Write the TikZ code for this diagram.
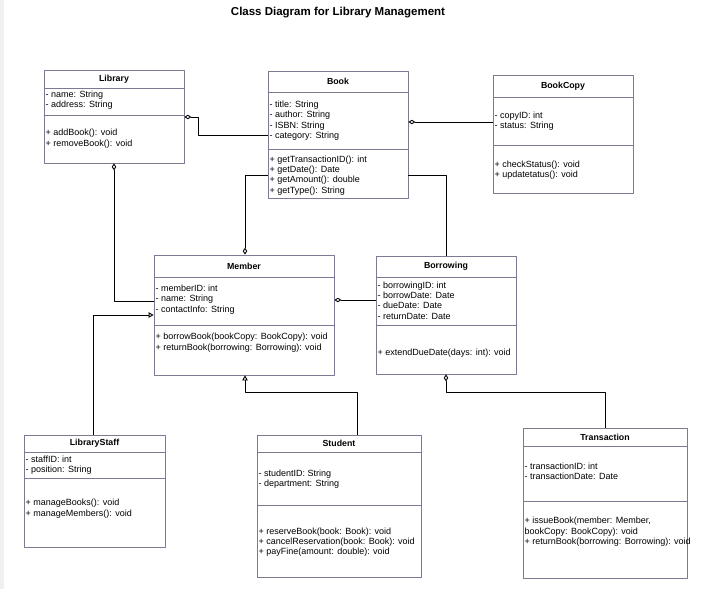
\documentclass[tikz,border=0pt]{standalone}
\usepackage{fontspec}
\setmainfont{Liberation Sans}
\usetikzlibrary{arrows.meta,fit}
\definecolor{clsborder}{RGB}{122,122,146}
\begin{document}
\begin{tikzpicture}[x=1pt,y=-1pt,line join=round,
	cls/.style={draw=clsborder,line width=0.8pt,inner sep=0pt},
	hdr/.style={font=\fontsize{8.8}{10}\selectfont\bfseries},
	txt/.style={anchor=north west,inner sep=0pt,align=left,font=\fontsize{9}{10.4}\selectfont},
	agg/.style={{Diamond[open,length=7pt,width=4.5pt]}-,line width=0.9pt},
	inh/.style={-{Triangle[open,length=5pt,width=5.5pt]},line width=0.9pt},
	assoc/.style={line width=0.9pt}]
	\useasboundingbox (0,0) rectangle (705,589);
	\fill[gray!12] (0,0) rectangle (4,589);
	\node[font=\fontsize{11.5}{13}\selectfont\bfseries] (title) at (338,13) {Class Diagram for Library Management};
	% class boxes: name/title/left/top/right/bottom/header line/attribute line
	\foreach \n/\t/\l/\u/\r/\b/\h/\a in {library/Library/44/70/184/163/88/115,
		book/Book/268/71/408/198/92/149,
		bookcopy/BookCopy/493/75/633/193/97/145,
		member/Member/154/255/334/375/277/325,
		borrowing/Borrowing/376/256/516/374/277/325,
		staff/LibraryStaff/24/435/165/547/452/478,
		student/Student/257/435/421/577/452/505,
		transaction/Transaction/523/428/687/578/446/501}{
		\node[cls,fit={(\l,\u)(\r,\b)}] (\n) {};
		\draw[clsborder,line width=0.8pt] (\n.west |- 0,\h) -- (\n.east |- 0,\h);
		\draw[clsborder,line width=0.8pt] (\n.west |- 0,\a) -- (\n.east |- 0,\a);
		\node[hdr] (\n-title) at ({(\l+\r)/2},{(\u+\h)/2}) {\t};
	}
	\node[txt] (library-a) at (45.5,90.6) {- name: String\\- address: String};
	\node[txt] (library-m) at (45.5,129) {+ addBook(): void\\+ removeBook(): void};
	\node[txt] (book-a) at (269.5,100.6) {- title: String\\- author: String\\- ISBN: String\\- category: String};
	\node[txt] (book-m) at (269.5,155.3) {+ getTransactionID(): int\\+ getDate(): Date\\+ getAmount(): double\\+ getType(): String};
	\node[txt] (bookcopy-a) at (494.5,111.3) {- copyID: int\\- status: String};
	\node[txt] (bookcopy-m) at (494.5,160.3) {+ checkStatus(): void\\+ updatetatus(): void};
	\node[txt] (member-a) at (155.5,284.6) {- memberID: int\\- name: String\\- contactInfo: String};
	\node[txt] (member-m) at (155.5,333) {+ borrowBook(bookCopy: BookCopy): void\\+ returnBook(borrowing: Borrowing): void};
	\node[txt] (borrowing-a) at (377.5,281.3) {- borrowingID: int\\- borrowDate: Date\\- dueDate: Date\\- returnDate: Date};
	\node[txt] (borrowing-m) at (377.5,348.3) {+ extendDueDate(days: int): void};
	\node[txt] (staff-a) at (25.5,455.3) {- staffID: int\\- position: String};
	\node[txt] (staff-m) at (25.5,499) {+ manageBooks(): void\\+ manageMembers(): void};
	\node[txt] (student-a) at (258.5,469.6) {- studentID: String\\- department: String};
	\node[txt] (student-m) at (258.5,527.3) {+ reserveBook(book: Book): void\\+ cancelReservation(book: Book): void\\+ payFine(amount: double): void};
	\node[txt] (transaction-a) at (524.5,462.3) {- transactionID: int\\- transactionDate: Date};
	\node[txt] (transaction-m) at (524.5,517) {+ issueBook(member: Member,\\bookCopy: BookCopy): void\\+ returnBook(borrowing: Borrowing): void};
	% relations
	\draw[agg] (library.east |- 0,117) -- (198,117) |- (book.west |- 0,135);
	\draw[agg] (book.east |- 0,122) -- (bookcopy.west |- 0,122);
	\draw[agg] (library.south -| 114,0) |- (member.west |- 0,301);
	\draw[agg] (member.north -| 245,0) |- (book.west |- 0,175);
	\draw[assoc] (book.east |- 0,175) -| (borrowing.north -| 446,0);
	\draw[agg] (member.east |- 0,300) -- (borrowing.west |- 0,300);
	\draw[inh] (staff.north -| 93,0) |- (member.west |- 0,315);
	\draw[inh] (student.north -| 357,0) |- (245,392) -- (member.south -| 245,0);
	\draw[agg] (borrowing.south -| 446,0) |- (605,392) -- (transaction.north -| 605,0);
\end{tikzpicture}
\end{document}
